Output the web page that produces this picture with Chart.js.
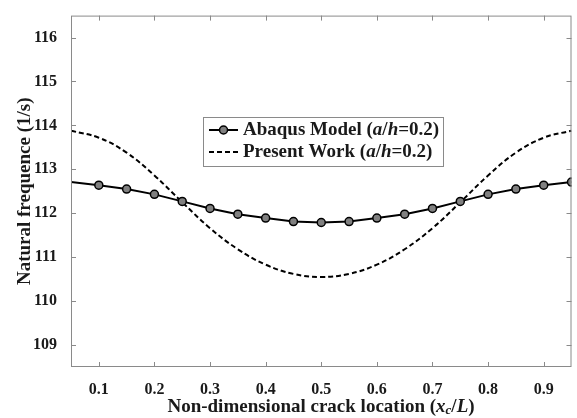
<!DOCTYPE html>
<html><head><meta charset="utf-8">
<script src="https://cdn.jsdelivr.net/npm/chart.js@4.4.1/dist/chart.umd.min.js"></script>
<style>html,body{margin:0;padding:0;background:#fff;}canvas{display:block;}</style>
</head><body>
<canvas id="c" width="577" height="418"></canvas>
<script>
const crackLocation = [0.05,0.10,0.15,0.20,0.25,0.30,0.35,0.40,0.45,0.50,0.55,0.60,0.65,0.70,0.75,0.80,0.85,0.90,0.95];
const abaqusModel  = [112.71,112.64,112.55,112.43,112.27,112.11,111.98,111.89,111.81,111.79,111.81,111.89,111.98,112.11,112.27,112.43,112.55,112.64,112.71];
const presentWork  = [113.88,113.72,113.38,112.86,112.25,111.66,111.18,110.83,110.62,110.55,110.62,110.83,111.18,111.66,112.25,112.86,113.38,113.72,113.88];
const xTickValues = [0.1,0.2,0.3,0.4,0.5,0.6,0.7,0.8,0.9];
const yTickValues = [109,110,111,112,113,114,115,116];
const seriesNames = ['Abaqus Model (a/h=0.2)','Present Work (a/h=0.2)'];
const yAxisTitle = 'Natural frequence (1/s)';

const FAM = "'Liberation Serif', 'Times New Roman', serif";
const TXT = '#1a1a1a';

function drawRich(ctx, segs, x, y, align){
  let w = 0;
  segs.forEach(s=>{ ctx.font = s.f; s.w = ctx.measureText(s.t).width; w += s.w; });
  let cx = align === 'center' ? x - w/2 : x;
  ctx.textAlign = 'left';
  ctx.textBaseline = 'middle';
  segs.forEach(s=>{ ctx.font = s.f; ctx.fillText(s.t, cx, y + (s.dy||0)); cx += s.w; });
}
function nameSegs(name, size){
  // italicise the single letters a and h inside "(a/h=...)"
  const m = name.match(/^(.*\()(\w)(\/)(\w)(=.*)$/);
  const b = 'bold ' + size + 'px ' + FAM, bi = 'italic bold ' + size + 'px ' + FAM;
  if(!m) return [{t:name,f:b}];
  return [{t:m[1],f:b},{t:m[2],f:bi},{t:m[3],f:b},{t:m[4],f:bi},{t:m[5],f:b}];
}

const framePlugin = {
  id:'frameTicks',
  afterDatasetsDraw(chart){
    const {ctx, chartArea:a, scales:{x, y}} = chart;
    ctx.save();
    ctx.strokeStyle = '#8a8a8a'; ctx.lineWidth = 1;
    ctx.strokeRect(a.left+0.5, a.top+0.5, a.right-a.left-1, a.bottom-a.top-1);
    ctx.beginPath();
    x.ticks.forEach(t=>{
      const p = Math.round(x.getPixelForValue(t.value))+0.5;
      ctx.moveTo(p, a.bottom); ctx.lineTo(p, a.bottom-5);
      ctx.moveTo(p, a.top); ctx.lineTo(p, a.top+5);
    });
    y.ticks.forEach(t=>{
      const p = Math.round(y.getPixelForValue(t.value))+0.5;
      ctx.moveTo(a.left, p); ctx.lineTo(a.left+5, p);
      ctx.moveTo(a.right, p); ctx.lineTo(a.right-5, p);
    });
    ctx.stroke();
    ctx.restore();
  },
  afterDraw(chart){
    const ctx = chart.ctx;
    const ds = chart.data.datasets;
    ctx.save();
    // legend box
    const bx = 203, by = 117, bw = 240, bh = 49;
    ctx.fillStyle = '#fff';
    ctx.fillRect(bx, by, bw, bh);
    ctx.strokeStyle = '#8a8a8a'; ctx.lineWidth = 1;
    ctx.strokeRect(bx+0.5, by+0.5, bw, bh);
    const rows = [130, 152];
    ds.forEach((d, i)=>{
      const yy = rows[i];
      ctx.strokeStyle = d.borderColor; ctx.lineWidth = d.borderWidth;
      ctx.setLineDash(d.borderDash || []);
      ctx.beginPath(); ctx.moveTo(209, yy); ctx.lineTo(238, yy); ctx.stroke();
      ctx.setLineDash([]);
      if(i === 0){
        ctx.beginPath(); ctx.arc(223.5, yy, 4, 0, Math.PI*2);
        ctx.fillStyle = d.pointBackgroundColor; ctx.fill();
        ctx.lineWidth = d.pointBorderWidth; ctx.strokeStyle = d.pointBorderColor; ctx.stroke();
      }
      ctx.fillStyle = TXT;
      drawRich(ctx, nameSegs(d.label, 19), 243, yy, 'left');
    });
    // x axis title with subscript
    const b = 'bold 19px ' + FAM, bi = 'italic bold 19px ' + FAM, sub = 'italic bold 13px ' + FAM;
    ctx.fillStyle = TXT;
    drawRich(ctx, [
      {t:'Non-dimensional crack location (', f:b},
      {t:'x', f:bi},{t:'c', f:sub, dy:4},{t:'/', f:b},{t:'L', f:bi},{t:')', f:b}
    ], 321, 407, 'center');
    ctx.restore();
  }
};

new Chart(document.getElementById('c'), {
  type:'line',
  data:{
    datasets:[
      {
        label: seriesNames[0],
        data: crackLocation.map((v,i)=>({x:v, y:abaqusModel[i]})),
        borderColor:'#000', borderWidth:2, tension:0,
        pointRadius: crackLocation.map((v,i)=> i===0 ? 0 : 4),
        pointBackgroundColor:'#808080', pointBorderColor:'#000', pointBorderWidth:1.5,
        order:1
      },
      {
        label: seriesNames[1],
        data: crackLocation.map((v,i)=>({x:v, y:presentWork[i]})),
        borderColor:'#000', borderWidth:2, borderDash:[5,3], tension:0.4,
        pointRadius:0, order:2
      }
    ]
  },
  options:{
    responsive:false, animation:false, devicePixelRatio:1,
    layout:{padding:{left:0, right:2, top:12, bottom:0}},
    plugins:{legend:{display:false}, tooltip:{enabled:false}},
    scales:{
      x:{
        type:'linear', min:0.05, max:0.95,
        afterBuildTicks: s=>{ s.ticks = xTickValues.map(v=>({value:v})); },
        afterFit: s=>{ s.height = 51; },
        grid:{display:false}, border:{display:false},
        ticks:{padding:5, color:TXT, font:{family:FAM, size:16, weight:'bold'}, callback:v=>Number(v).toFixed(1), maxRotation:0}
      },
      y:{
        type:'linear', min:108.5, max:116.5,
        afterBuildTicks: s=>{ s.ticks = yTickValues.map(v=>({value:v})); },
        afterFit: s=>{ s.width = 71; },
        grid:{display:false}, border:{display:false},
        ticks:{padding:6, color:TXT, font:{family:FAM, size:16, weight:'bold'}},
        title:{display:true, text:yAxisTitle, color:TXT, font:{family:FAM, size:19, weight:'bold'}, padding:{top:14, bottom:0}}
      }
    }
  },
  plugins:[framePlugin]
});
</script>
</body></html>
